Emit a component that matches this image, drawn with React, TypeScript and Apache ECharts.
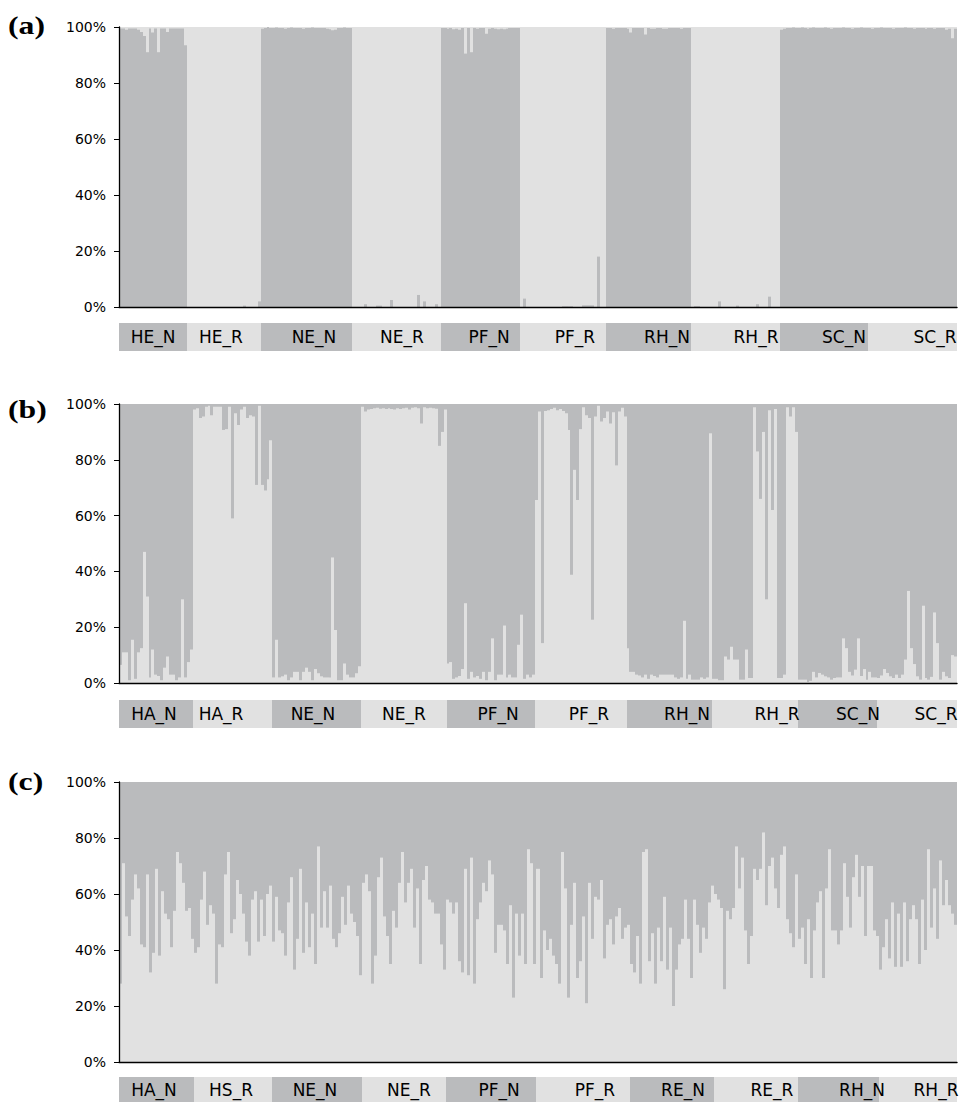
import React, { useEffect, useRef } from "react";
import * as echarts from "echarts";

// ---------- colours ----------
const DARK = "#babbbd";
const LIGHT = "#e1e1e1";

// ---------- panel (a): share of the dark cluster (bottom) ----------
const A_GROUPS = ["HE_N", "HE_R", "NE_N", "NE_R", "PF_N", "PF_R", "RH_N", "RH_R", "SC_N", "SC_R"];
const A_HE_N = [99.5, 99.5, 99, 99.5, 99.5, 99.5, 99, 98.2, 96.8, 91, 99.5, 98, 99.5, 91, 99.5, 99.5, 98.2, 99.5, 99.5, 99.5, 99.5, 99.5, 93.5];
const A_HE_R = [0, 0, 0, 0, 0, 0, 0, 0, 0, 0, 0, 0, 0, 0, 0, 0, 0, 0, 0, 0.5, 0, 0, 0, 0, 2];
const A_NE_N = [99.4, 99.6, 100, 99.6, 99.6, 99.8, 99.6, 99.6, 99.4, 99.6, 99.8, 99.6, 99.6, 99.6, 99.4, 99.6, 99.6, 99.8, 99.6, 99.6, 99.6, 99.6, 99.4, 99.2, 98.8, 99, 99.6, 99.6, 99.8, 99.6, 99.6];
const A_NE_R = [0, 0, 0, 0, 1, 0, 0, 0, 0.5, 0.5, 0, 0, 0, 2.5, 0, 0, 0, 0, 0, 0, 0, 0, 4.3, 0, 2, 0, 0, 0, 1, 0];
const A_PF_N = [99.6, 99.6, 99.4, 99.6, 99.2, 99.4, 99, 99.6, 90.5, 99.6, 91, 99.6, 99.4, 99.6, 99.6, 97.6, 99.4, 99.6, 99.4, 99.2, 99.4, 99.2, 99.4, 99.6, 99.6, 99.6, 99.6];
const A_PF_R = [0, 3, 0, 0, 0, 0, 0, 0, 0, 0, 0, 0, 0, 0, 0.3, 0.3, 0.3, 0.3, 0, 0, 0, 0.6, 0.6, 0.6, 0.6, 0, 18, 0, 0];
const A_RH_N = [99.6, 99.6, 99.4, 99.6, 99.6, 99.6, 99.6, 99.4, 98, 99.6, 99.6, 99.6, 99.6, 97.3, 99.6, 99.4, 99.4, 99.6, 99.6, 99.4, 99.4, 99.6, 99.6, 99.6, 99.6, 99.4, 99.6, 99.6, 99.6];
const A_RH_R = [0, 0.3, 0.3, 0, 0, 0, 0, 0, 0, 2, 0, 0, 0, 0, 0, 0.5, 0, 0, 0, 0, 0, 0, 1, 0, 0, 0, 3.7, 0, 0, 0];
const A_SC_N = [99, 99.4, 99.6, 99.6, 99.8, 99.6, 99.6, 99.8, 99.6, 99.4, 99.6, 99.8, 99.6, 99.6, 99.6, 99.8, 99.6, 99.4, 99.6, 99.6, 99.6, 99.8, 99.6, 99.6, 99.4, 99.6, 99.6, 99.8, 99.6, 99.6];
const A_SC_R = [99.6, 99.4, 99.6, 99.6, 99.8, 99.6, 99.6, 99.6, 99.4, 99.6, 99.6, 99.6, 99.8, 99.6, 99.6, 99.4, 99.6, 99.6, 99.6, 99.4, 99.6, 99.6, 99.4, 99.6, 99.6, 99.6, 99, 99.4, 96, 99.4];

// ---------- panel (b): share of the light cluster (bottom) ----------
const B_GROUPS = ["HA_N", "HA_R", "NE_N", "NE_R", "PF_N", "PF_R", "RH_N", "RH_R", "SC_N", "SC_R"];
const B_HA_N = [6.5, 11, 11, 1, 15.5, 1.5, 11, 12.5, 47, 31, 2, 12, 3, 2.5, 1, 5.5, 9.5, 3, 3, 1, 2, 30, 2, 7.5, 12];
const B_HA_R = [98, 98.5, 95, 95.5, 99, 99.4, 96, 99, 99, 99, 90.7, 91, 99, 59, 96.7, 92.5, 98, 99, 95, 96, 95.5, 71, 99.4, 71, 69, 73, 87];
const B_NE_N = [2, 15.5, 2, 2.4, 3, 1, 2, 4, 4, 1, 4, 5.5, 4, 1, 5, 3.5, 2.4, 2, 2, 2, 45, 19, 1, 1, 7, 3, 2, 2, 3.5, 6];
const B_NE_R = [99, 97.3, 98, 98.2, 98.5, 98.7, 98.3, 98.5, 98.2, 98.5, 98.2, 98, 98.5, 98.2, 98.5, 98.7, 98, 98.7, 98.8, 98.5, 93, 98.8, 98.5, 98.7, 98.5, 98.3, 85, 90, 98];
const B_PF_N = [7, 7.5, 1.5, 2, 2.5, 5, 28.6, 1.5, 4, 2, 2.5, 1.5, 4, 1, 4, 16, 1, 3, 3, 20.6, 2, 3, 2, 2, 13.7, 24.5, 1.5, 3, 2, 3];
const B_PF_R = [65.6, 97.3, 14.3, 97.5, 97.8, 98.2, 98.7, 97.8, 98.2, 97.5, 96.7, 90.7, 38.8, 76.4, 65.6, 91, 98.8, 96, 95, 22.7, 95.5, 99.4, 93.7, 95, 97.3, 93, 97, 78, 97.3, 98.7, 95.5];
const B_RH_N = [12.5, 4, 4, 3, 2.7, 2, 3, 1.5, 3, 2.5, 2, 3, 3, 3, 3, 3, 2, 1.5, 2, 22.3, 1.5, 3, 1.2, 1.2, 1.2, 2, 1.5, 2, 89.5];
const B_RH_R = [1.5, 1.5, 1, 1, 9.5, 8.4, 13, 8.4, 8.4, 1.2, 1.2, 12, 1.8, 1.8, 98.8, 83, 66, 90, 30, 97.8, 62, 98.2, 1.8, 1.8, 3, 98.8, 95.5, 98.8, 90];
const B_SC_N = [1.2, 1.2, 1.2, 0.4, 0.8, 4, 2, 3.6, 3, 2.4, 2, 1.2, 1.8, 2, 2, 16, 12.5, 4, 2.7, 4.8, 16, 2.5, 5, 1.2, 4, 2, 2];
const B_SC_R = [1.8, 2.7, 5, 3.6, 2.4, 1.8, 3, 1.8, 3, 8.4, 33, 12.5, 6.8, 2.4, 1.2, 27.7, 1.8, 1.2, 2.2, 25.3, 14.3, 1.2, 4, 2.4, 1.8, 10, 9.5];

// ---------- panel (c): share of the light cluster (bottom) ----------
const C_GROUPS = ["HA_N", "HS_R", "NE_N", "NE_R", "PF_N", "PF_R", "RE_N", "RE_R", "RH_N", "RH_R"];
const C_HA_N = [28, 71, 52, 45, 58, 67, 62, 42, 41, 67, 32, 39, 69, 38, 61, 53, 51, 41, 54, 75, 71, 64, 54, 55, 44];
const C_HS_R = [39, 41, 58, 68, 49, 56, 53, 28, 42, 41, 67, 75, 46, 51, 65, 60, 53, 43, 38, 58, 61, 43, 58, 45, 60, 63];
const C_NE_N = [43, 59, 47, 46, 38, 57, 66, 33, 44, 69, 39, 57, 41, 53, 35, 77, 48, 61, 48, 63, 44, 41, 46, 59, 49, 63, 53, 50, 45, 31];
const C_NE_R = [64, 67, 61, 28, 38, 66, 73, 52, 45, 35, 54, 48, 64, 75, 57, 64, 69, 48, 62, 35, 65, 70, 58, 57, 53, 53, 42, 33];
const C_PF_N = [58, 57, 53, 57, 36, 32, 69, 31, 73, 28, 51, 57, 64, 61, 72, 67, 39, 49, 49, 47, 35, 56, 23, 53, 38, 53, 35, 76, 71, 35];
const C_PF_R = [69, 30, 47, 40, 44, 38, 35, 28, 75, 62, 23, 49, 64, 30, 36, 52, 21, 64, 44, 59, 58, 65, 37, 49, 51, 42, 52, 55, 44, 48, 49];
const C_RE_N = [35, 32, 45, 28, 75, 76, 36, 46, 28, 48, 36, 59, 33, 48, 20, 33, 42, 44, 58, 44, 30, 58, 49, 39, 48, 44, 57, 63];
const C_RE_R = [60, 58, 55, 26, 54, 51, 55, 77, 62, 73, 47, 35, 45, 69, 65, 69, 82, 56, 70, 73, 62, 55, 74, 77, 51, 46, 41, 67];
const C_RH_N = [44, 48, 35, 51, 30, 47, 57, 61, 30, 62, 76, 47, 47, 42, 47, 71, 59, 48, 66, 74, 59, 70, 45, 70, 70, 47, 45];
const C_RH_R = [33, 41, 51, 37, 57, 34, 53, 34, 57, 36, 51, 56, 51, 35, 58, 40, 76, 48, 62, 44, 72, 56, 65, 56, 53, 49];

const Y_TICKS = [0, 20, 40, 60, 80, 100];

// ---------- layout (not data) ----------
const PLOT_LEFT = 119;
const PLOT_WIDTH = 838;
const LAYOUT = [
  { top: 27, height: 280, bandTop: 323, tagY: 25 },
  { top: 404, height: 279, bandTop: 700, tagY: 409 },
  { top: 782, height: 280, bandTop: 1077, tagY: 781 },
];
const BAND_HEIGHT = 28;
const LABEL_X = [
  [153, 221, 314, 402, 489, 575, 667, 756, 844, 935],
  [154, 221, 313, 404, 498, 589, 687, 777, 858, 936],
  [154, 231, 315, 409, 499, 595, 683, 772, 862, 936],
];

const PANELS = [
  {
    tag: "(a)",
    groups: A_GROUPS,
    values: [A_HE_N, A_HE_R, A_NE_N, A_NE_R, A_PF_N, A_PF_R, A_RH_N, A_RH_R, A_SC_N, A_SC_R],
    bottom: DARK,
    top: LIGHT,
  },
  {
    tag: "(b)",
    groups: B_GROUPS,
    values: [B_HA_N, B_HA_R, B_NE_N, B_NE_R, B_PF_N, B_PF_R, B_RH_N, B_RH_R, B_SC_N, B_SC_R],
    bottom: LIGHT,
    top: DARK,
  },
  {
    tag: "(c)",
    groups: C_GROUPS,
    values: [C_HA_N, C_HS_R, C_NE_N, C_NE_R, C_PF_N, C_PF_R, C_RE_N, C_RE_R, C_RH_N, C_RH_R],
    bottom: LIGHT,
    top: DARK,
  },
];

function buildOption() {
  const grid: any[] = [];
  const xAxis: any[] = [];
  const yAxis: any[] = [];
  const series: any[] = [];
  const graphic: any[] = [];

  PANELS.forEach((p, k) => {
    const L = LAYOUT[k];
    const flat: number[] = ([] as number[]).concat(...p.values);
    const n = flat.length;
    const cats = flat.map((_, i) => String(i + 1));
    const barIdx = 2 * k;
    const bandIdx = 2 * k + 1;

    // ----- bar grid -----
    grid.push({ left: PLOT_LEFT, top: L.top, width: PLOT_WIDTH, height: L.height, containLabel: false });
    xAxis.push({
      type: "category",
      gridIndex: barIdx,
      data: cats,
      boundaryGap: true,
      axisLine: { show: true, lineStyle: { color: "#000", width: 1.4 } },
      axisTick: { show: false },
      axisLabel: { show: false },
      splitLine: { show: false },
      z: 5,
    });
    yAxis.push({
      type: "value",
      gridIndex: barIdx,
      min: 0,
      max: 100,
      interval: 20,
      axisLine: { show: true, lineStyle: { color: "#000", width: 1.3 } },
      axisTick: { show: true, length: 5, lineStyle: { color: "#000", width: 1 } },
      axisLabel: {
        formatter: (v: number) => (Y_TICKS.includes(v) ? v + "%" : ""),
        fontFamily: "DejaVu Sans",
        fontSize: 14,
        color: "#000",
        margin: 13,
      },
      splitLine: { show: false },
      z: 5,
    });

    const bottomColor = p.bottom;
    const topColor = p.top;
    series.push({
      type: "custom",
      xAxisIndex: barIdx,
      yAxisIndex: barIdx,
      silent: true,
      encode: { x: 0, y: 1 },
      data: flat.map((v, i) => [i, v]),
      renderItem: (params: any, api: any) => {
        const i = api.value(0);
        const v = api.value(1);
        const bw = api.size([1, 0])[0];
        const first = api.coord([0, 0]);
        const left0 = first[0] - bw / 2;
        const base = api.coord([i, 0]);
        const mid = api.coord([i, v]);
        const full = api.coord([i, 100]);
        const x0 = Math.round(left0 + i * bw);
        const x1 = Math.round(left0 + (i + 1) * bw);
        return {
          type: "group",
          children: [
            {
              type: "rect",
              shape: { x: x0, y: full[1], width: x1 - x0, height: base[1] - full[1] },
              style: { fill: topColor },
            },
            {
              type: "rect",
              shape: { x: x0, y: mid[1], width: x1 - x0, height: base[1] - mid[1] },
              style: { fill: bottomColor },
            },
          ],
        };
      },
    });

    // ----- group band grid -----
    grid.push({ left: PLOT_LEFT, top: L.bandTop, width: PLOT_WIDTH, height: BAND_HEIGHT, containLabel: false });
    xAxis.push({ type: "value", gridIndex: bandIdx, min: 0, max: n, show: false });
    yAxis.push({ type: "value", gridIndex: bandIdx, min: 0, max: 1, show: false });

    const bandData: number[][] = [];
    let start = 0;
    p.values.forEach((arr, gi) => {
      bandData.push([start, start + arr.length, gi]);
      start += arr.length;
    });
    const groups = p.groups;
    const labelX = LABEL_X[k];
    // band rectangles
    series.push({
      type: "custom",
      xAxisIndex: bandIdx,
      yAxisIndex: bandIdx,
      silent: true,
      z: 2,
      encode: { x: [0, 1] },
      data: bandData,
      renderItem: (params: any, api: any) => {
        const s = api.value(0);
        const e = api.value(1);
        const gi = api.value(2);
        const p0 = api.coord([s, 1]);
        const p1 = api.coord([e, 0]);
        const x0 = Math.round(p0[0]);
        const x1 = Math.round(p1[0]);
        return {
          type: "rect",
          shape: { x: x0, y: p0[1], width: x1 - x0, height: p1[1] - p0[1] },
          style: { fill: gi % 2 === 0 ? DARK : LIGHT },
        };
      },
    });
    // band labels (drawn above every band rectangle)
    series.push({
      type: "custom",
      xAxisIndex: bandIdx,
      yAxisIndex: bandIdx,
      silent: true,
      z: 3,
      encode: { x: [0, 1] },
      data: bandData,
      renderItem: (params: any, api: any) => {
        const s = api.value(0);
        const gi = api.value(2);
        const p0 = api.coord([s, 1]);
        const p1 = api.coord([s, 0]);
        return {
          type: "text",
          x: labelX[gi],
          y: (p0[1] + p1[1]) / 2,
          style: {
            text: groups[gi],
            fill: "#000",
            fontFamily: "DejaVu Sans",
            fontSize: 17,
            align: "center",
            verticalAlign: "middle",
          },
        };
      },
    });

    graphic.push({
      type: "text",
      x: 8,
      y: L.tagY,
      scaleX: 1.22,
      style: {
        text: p.tag,
        fill: "#000",
        fontFamily: '"Liberation Serif", "Times New Roman", serif',
        fontWeight: "bold",
        fontSize: 26,
        verticalAlign: "middle",
        align: "left",
      },
    });
  });

  return {
    animation: false,
    backgroundColor: "#ffffff",
    grid,
    xAxis,
    yAxis,
    series,
    graphic,
  };
}

export default function App() {
  const ref = useRef<HTMLDivElement>(null);
  useEffect(() => {
    if (!ref.current) return;
    const chart = echarts.init(ref.current, undefined, { renderer: "svg" });
    chart.setOption(buildOption() as any);
    return () => chart.dispose();
  }, []);
  return (
    <div
      ref={ref}
      style={{ position: "absolute", left: 0, top: 0, width: 966, height: 1102 }}
    />
  );
}
